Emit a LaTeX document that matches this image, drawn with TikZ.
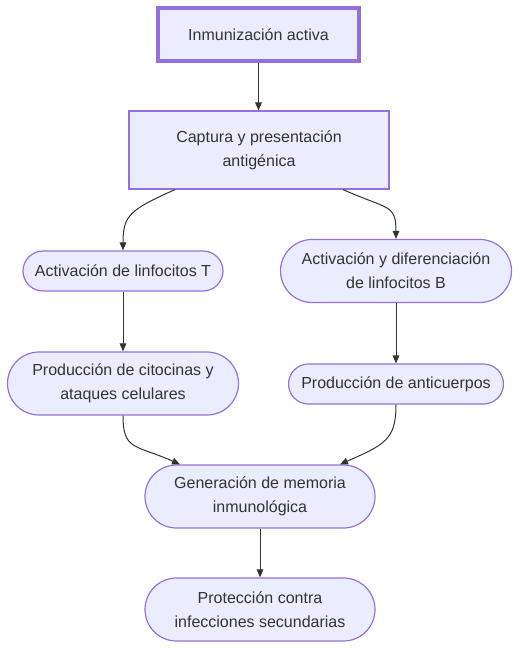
\documentclass[tikz,border=0pt]{standalone}
\usepackage{fontspec}
\setmainfont{Liberation Sans}
\usepackage{xcolor}
\definecolor{boxfill}{HTML}{ECECFF}
\definecolor{boxline}{HTML}{9370DB}
\definecolor{ink}{HTML}{333333}
\usetikzlibrary{calc,shapes.misc,arrows.meta}
\tikzset{flowbox/.style={draw=boxline,fill=boxfill,text=ink,line width=0.9pt,
    align=center,inner sep=0pt,font=\fontsize{12pt}{18pt}\selectfont}}
\tikzset{pillbox/.style={flowbox,rounded rectangle}}
\tikzset{flowarrow/.style={draw=ink,line width=0.75pt,-{Triangle[length=6pt,width=5pt]}}}

\begin{document}
\begin{tikzpicture}[x=0.75pt,y=-0.75pt]
  \useasboundingbox (0,0) rectangle (519,650);

  \node [flowbox,line width=2.4pt,minimum width=150.75pt,minimum height=39.75pt]
    (inm) at (258.5,34.5) {Inmunización activa};
  \node [flowbox,minimum width=195pt,minimum height=58.5pt]
    (cap) at (259,150) {Captura y presentación\\antigénica};

  \node [pillbox,minimum width=150pt,minimum height=30pt]
    (linT) at (123,271) {Activación de linfocitos T};
  \node [pillbox,minimum width=173.25pt,minimum height=47.25pt]
    (linB) at (396,271) {Activación y diferenciación\\de linfocitos B};

  \node [pillbox,minimum width=173.25pt,minimum height=47.25pt]
    (cit) at (123,383.5) {Producción de citocinas y\\ataques celulares};
  \node [pillbox,minimum width=161.25pt,minimum height=30pt]
    (anti) at (396,384) {Producción de anticuerpos};

  \node [pillbox,minimum width=172.5pt,minimum height=47.25pt]
    (mem) at (260,496.5) {Generación de memoria\\inmunológica};
  \node [pillbox,minimum width=172.5pt,minimum height=47.25pt]
    (prot) at (260,609.5) {Protección contra\\infecciones secundarias};

  % connectors
  \draw [flowarrow] (inm.south) -- (cap.north -| inm.south);
  \draw [flowarrow] ($(cap.south)+(-84,0)$) .. controls +(-45,20) and +(0,-35) .. (linT.north);
  \draw [flowarrow] ($(cap.south)+(84,0)$) .. controls +(45,20) and +(0,-35) .. (linB.north);
  \draw [flowarrow] (linT.south) -- (cit.north);
  \draw [flowarrow] (linB.south) -- (anti.north);
  \draw [flowarrow] (cit.south) .. controls +(0,35) and +(-45,-20) .. ($(mem.north)+(-80,0)$);
  \draw [flowarrow] (anti.south) .. controls +(0,35) and +(45,-20) .. ($(mem.north)+(80,0)$);
  \draw [flowarrow] (mem.south) -- (prot.north);
\end{tikzpicture}
\end{document}
